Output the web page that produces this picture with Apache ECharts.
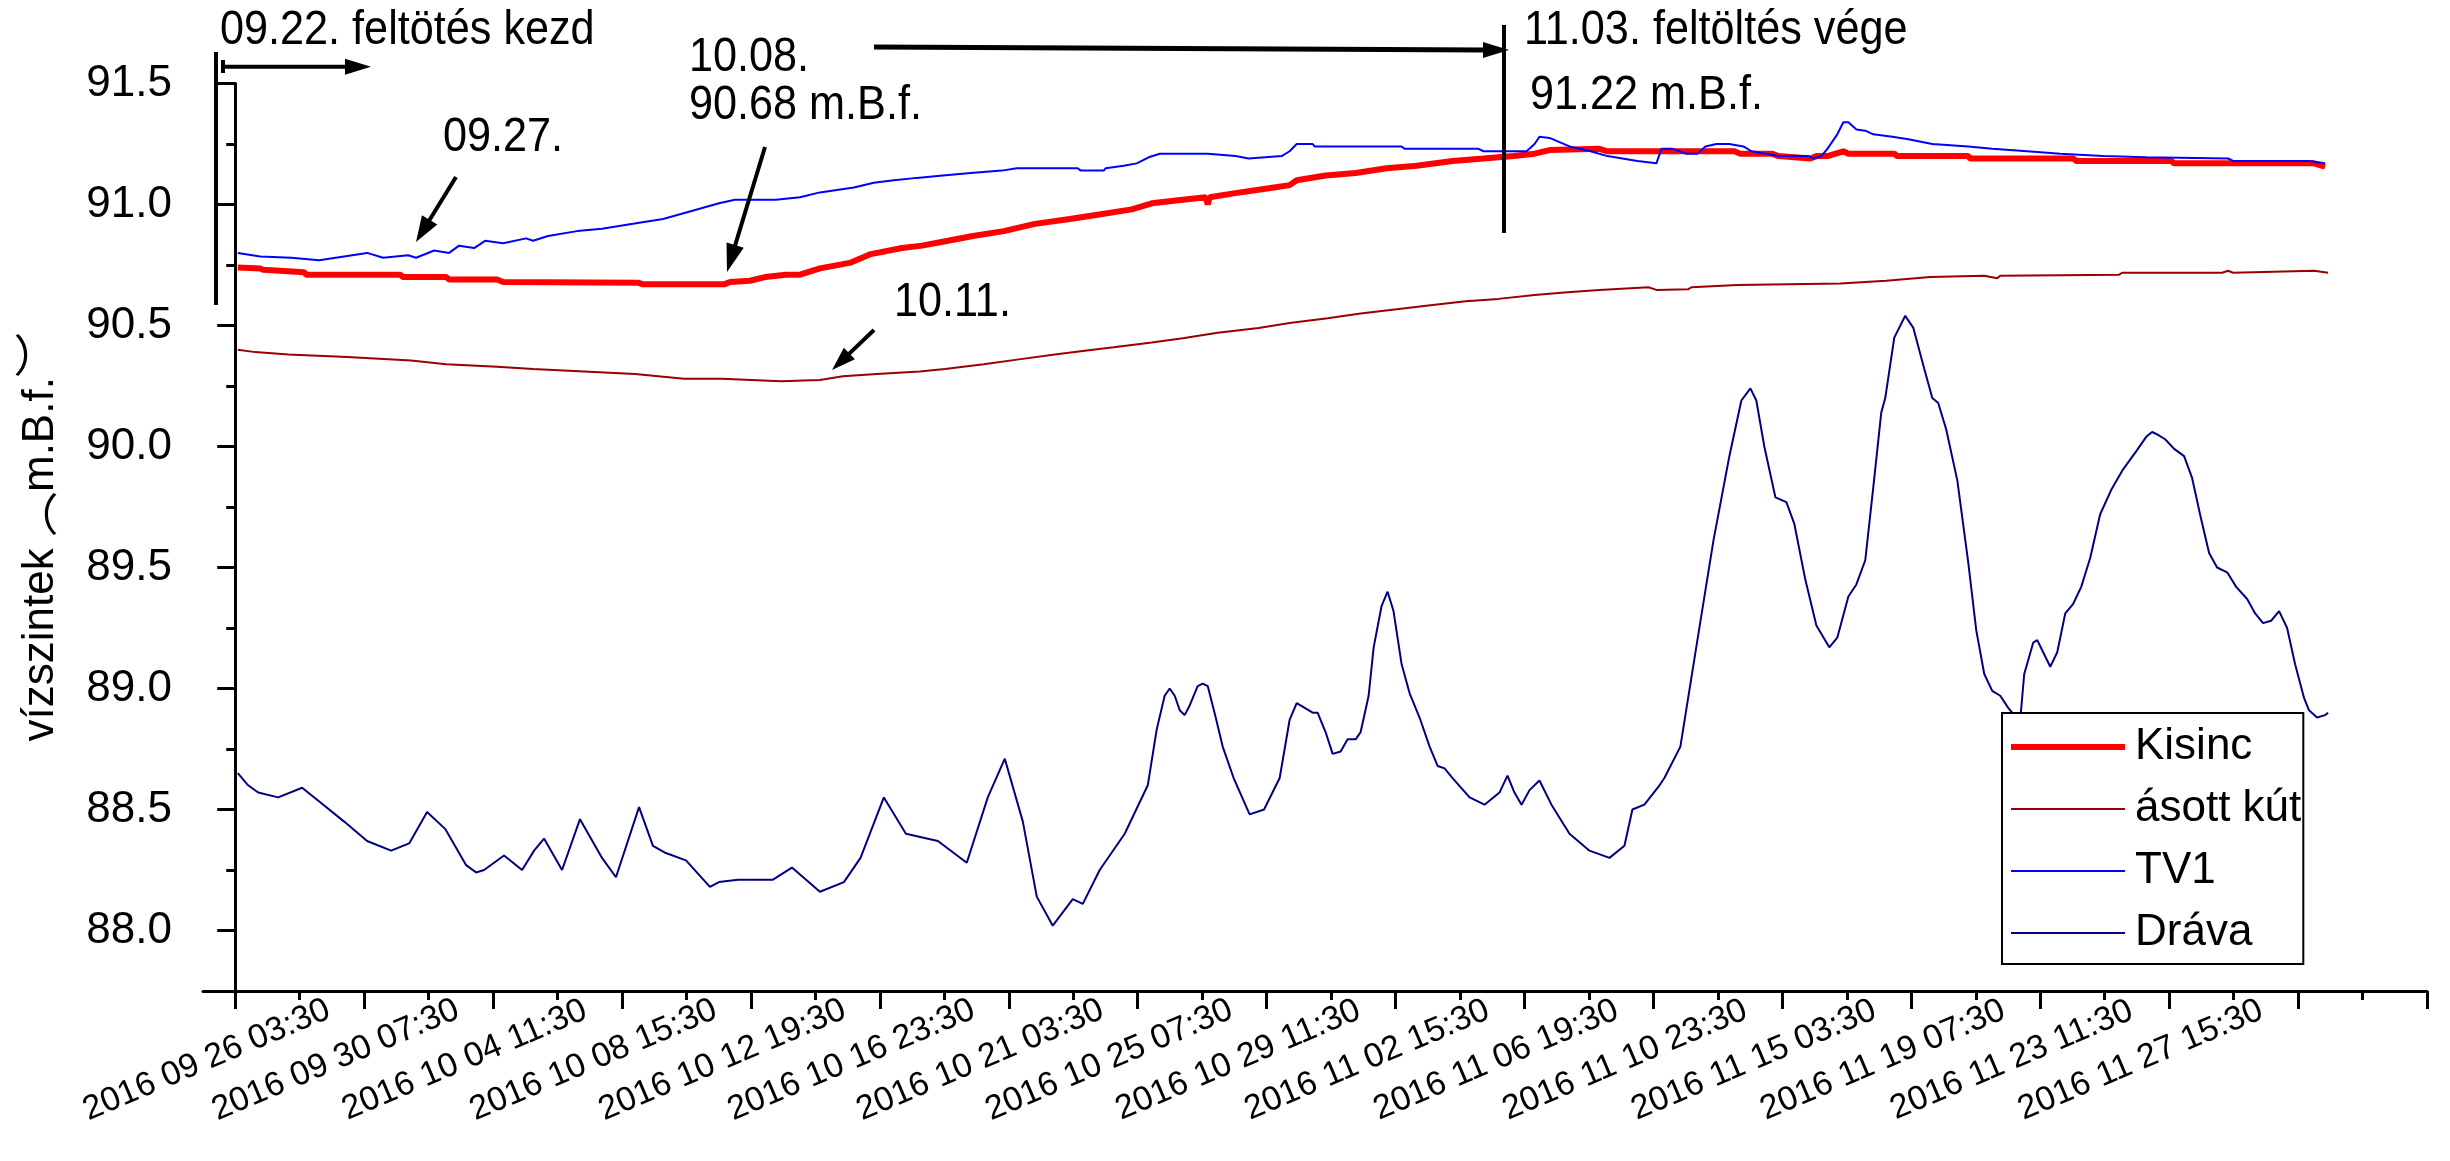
<!DOCTYPE html>
<html><head><meta charset="utf-8">
<script src="https://cdn.jsdelivr.net/npm/echarts@6/dist/echarts.min.js"></script>
<style>html,body{margin:0;padding:0;background:#fff}#c{width:2450px;height:1161px}</style>
</head><body><div id="c"></div>
<script>
// x = hours since 2016 09 26 03:30
const tickLabels = ['2016 09 26 03:30','2016 09 30 07:30','2016 10 04 11:30','2016 10 08 15:30','2016 10 12 19:30','2016 10 16 23:30','2016 10 21 03:30','2016 10 25 07:30','2016 10 29 11:30','2016 11 02 15:30','2016 11 06 19:30','2016 11 10 23:30','2016 11 15 03:30','2016 11 19 07:30','2016 11 23 11:30','2016 11 27 15:30'];
const xLabelValues = [0,100,200,300,400,500,600,700,800,900,1000,1100,1200,1300,1400,1500];
const xMajorTicks = [0,100,200,300,400,500,600,700,800,900,1000,1100,1200,1300,1400,1500,1600,1700];
const xMinorTicks = [50,150,250,350,450,550,650,750,850,950,1050,1150,1250,1350,1450,1550,1650];
const yMajorTicks = [88.0,88.5,89.0,89.5,90.0,90.5,91.0,91.5];
const yMinorTicks = [87.75,88.25,88.75,89.25,89.75,90.25,90.75,91.25];
const seriesNames = ['Kisinc','ásott kút','TV1','Dráva'];

const kisinc = [[2,90.74],[19.4,90.736],[21.7,90.73],[53.5,90.72],[55,90.71],[127.9,90.71],[130.2,90.70],[163.6,90.70],[165.9,90.69],[203.1,90.69],[207.8,90.68],[312.4,90.677],[316.3,90.67],[379.1,90.67],[383.7,90.68],[399.2,90.685],[410.9,90.70],[427.1,90.71],[438,90.71],[453.5,90.736],[477.5,90.76],[493,90.795],[517.1,90.82],[532.6,90.83],[552.7,90.85],[572.1,90.87],[596.1,90.89],[620.2,90.92],[647.3,90.94],[671.3,90.96],[695.3,90.98],[710.9,91.005],[734.9,91.02],[752.7,91.03],[754.3,91.00],[755.8,91.03],[774.4,91.046],[801.6,91.067],[817.8,91.08],[823.3,91.10],[845.7,91.12],[869,91.13],[893,91.15],[916.3,91.16],[944.2,91.18],[968.2,91.19],[991.5,91.20],[1007.8,91.21],[1019.4,91.225],[1058.1,91.23],[1064.3,91.22],[1162.8,91.22],[1167.4,91.21],[1192.2,91.21],[1196.9,91.20],[1221.7,91.19],[1226.4,91.20],[1234.9,91.20],[1247.3,91.22],[1251.2,91.21],[1286.8,91.21],[1289.1,91.20],[1344.2,91.20],[1345.7,91.19],[1425.6,91.19],[1427.9,91.18],[1501.6,91.18],[1503.9,91.17],[1612.4,91.17],[1620.9,91.156]];

const asottKut = [[2,90.40],[15.5,90.39],[41.1,90.38],[86.8,90.37],[136.4,90.355],[163.6,90.34],[203.1,90.33],[231,90.32],[270.5,90.31],[310.1,90.30],[348.1,90.28],[377.5,90.28],[423.3,90.27],[453.5,90.275],[471.3,90.29],[497.7,90.30],[531,90.31],[550.4,90.32],[580.6,90.34],[607.8,90.36],[635.7,90.38],[665.1,90.40],[681.4,90.41],[710.9,90.43],[734.9,90.447],[762,90.47],[793.8,90.49],[817.8,90.51],[847.3,90.53],[872.9,90.55],[900.8,90.567],[928.7,90.585],[954.3,90.60],[979.8,90.61],[1007.8,90.626],[1033.3,90.637],[1058.1,90.647],[1096.1,90.658],[1102.3,90.647],[1127.1,90.65],[1129.5,90.658],[1165.1,90.667],[1245,90.674],[1280.6,90.685],[1314.7,90.70],[1356.6,90.706],[1366.7,90.695],[1369,90.706],[1461.2,90.71],[1463.6,90.718],[1541.1,90.718],[1545.7,90.726],[1549.6,90.718],[1612.4,90.726],[1623.3,90.718]];

const tv1 = [[2,90.80],[19.4,90.785],[43.4,90.78],[65.1,90.77],[102.3,90.80],[114.7,90.78],[134.1,90.79],[140.3,90.78],[154.3,90.81],[165.9,90.80],[173.6,90.83],[185.3,90.82],[193.8,90.85],[207.8,90.84],[225.6,90.86],[231,90.85],[242.6,90.87],[265.1,90.89],[284.5,90.90],[308.5,90.92],[331.8,90.94],[351.9,90.97],[375.2,91.005],[387.6,91.02],[419.4,91.02],[438,91.03],[453.5,91.05],[479.8,91.07],[495.3,91.09],[510.9,91.10],[528.7,91.11],[548.8,91.12],[570.5,91.13],[594.6,91.14],[606.2,91.15],[653.5,91.15],[655.8,91.14],[673.6,91.14],[675.2,91.15],[689.1,91.16],[699.2,91.17],[708.5,91.195],[717.1,91.21],[754.3,91.21],[776,91.20],[786,91.19],[811.6,91.20],[817.8,91.22],[823.3,91.25],[835.7,91.25],[837.2,91.24],[904.7,91.24],[907,91.23],[964.3,91.23],[968.2,91.22],[1001.6,91.22],[1007.8,91.25],[1011.6,91.28],[1019.4,91.275],[1034.9,91.24],[1051.2,91.22],[1064.3,91.20],[1087.6,91.18],[1102.3,91.17],[1106.2,91.23],[1114.7,91.23],[1125.6,91.21],[1134.1,91.21],[1140.3,91.24],[1148.8,91.25],[1158.9,91.25],[1169.8,91.24],[1176,91.22],[1196.9,91.20],[1220.2,91.20],[1224,91.19],[1230.2,91.20],[1234.9,91.23],[1242.6,91.29],[1247.3,91.34],[1251.2,91.34],[1257.4,91.31],[1264.3,91.305],[1270.5,91.29],[1285.3,91.28],[1297.7,91.27],[1316.3,91.25],[1344.2,91.24],[1362.8,91.23],[1389.9,91.22],[1415.5,91.21],[1448.8,91.20],[1482.2,91.195],[1545.7,91.19],[1549.6,91.18],[1608.5,91.18],[1620.9,91.17]];

const drava = [[2,88.65],[10,88.60],[17.8,88.57],[33.3,88.55],[51.9,88.59],[65.9,88.53],[84.5,88.45],[102.3,88.37],[120.9,88.33],[134.9,88.36],[148.8,88.49],[162.8,88.42],[179.1,88.27],[186.8,88.24],[193,88.25],[208.5,88.31],[222.5,88.25],[231.8,88.33],[239.5,88.38],[253.5,88.25],[267.4,88.46],[284.5,88.30],[295.3,88.22],[313.2,88.51],[324,88.35],[334,88.32],[349.6,88.29],[368.2,88.18],[375.2,88.20],[390,88.21],[417.1,88.21],[431.8,88.26],[453.5,88.16],[472.1,88.20],[485,88.30],[503.1,88.55],[520.2,88.40],[545,88.37],[567.4,88.28],[583.7,88.55],[596.9,88.71],[610.9,88.45],[621.7,88.14],[634.1,88.02],[649.6,88.13],[657.4,88.11],[670.5,88.25],[689.9,88.40],[707.8,88.60],[714.7,88.83],[720.9,88.97],[724.8,89.00],[728.7,88.97],[732.6,88.91],[736.4,88.89],[740.3,88.93],[746.5,89.01],[750.4,89.02],[754.3,89.01],[760.5,88.88],[765.9,88.76],[774.4,88.63],[786.8,88.48],[798,88.50],[810.1,88.63],[817.8,88.87],[823.3,88.94],[829.5,88.92],[835.7,88.90],[839.5,88.90],[845.7,88.82],[851.2,88.73],[857.4,88.74],[862.8,88.79],[869,88.79],[872.9,88.82],[879.1,88.97],[883,89.17],[889.1,89.34],[893.8,89.40],[898.4,89.32],[904.7,89.10],[910.9,88.98],[918.6,88.88],[926.4,88.76],[932.6,88.68],[938,88.67],[944.2,88.63],[957.4,88.55],[969,88.52],[980.6,88.57],[986.8,88.64],[992.2,88.57],[997.7,88.52],[1003.9,88.58],[1011.6,88.62],[1020.9,88.52],[1034.9,88.40],[1050.4,88.33],[1065.9,88.30],[1077.5,88.35],[1083.7,88.50],[1093,88.52],[1104.7,88.60],[1108.5,88.63],[1120.9,88.76],[1134.1,89.20],[1146.5,89.61],[1158.9,89.96],[1168.2,90.19],[1175.2,90.24],[1179.8,90.19],[1186,90.00],[1194.6,89.79],[1203.1,89.77],[1209.3,89.68],[1217.8,89.45],[1226.4,89.26],[1236.4,89.17],[1242.6,89.21],[1251.2,89.38],[1257.4,89.43],[1264.3,89.53],[1270.5,89.83],[1276.7,90.14],[1279.8,90.20],[1286.8,90.45],[1295.3,90.54],[1301.6,90.49],[1310.1,90.32],[1316.3,90.20],[1320.9,90.18],[1327.1,90.07],[1335.7,89.86],[1344.2,89.52],[1350.4,89.24],[1356.6,89.06],[1362.8,88.99],[1369,88.97],[1375.2,88.92],[1381.4,88.88],[1384.5,88.87],[1387.6,89.06],[1394.6,89.19],[1397.7,89.20],[1402.3,89.15],[1407.8,89.09],[1413.2,89.15],[1419.4,89.31],[1425.6,89.35],[1431.8,89.42],[1438.8,89.54],[1446.5,89.72],[1455,89.82],[1463.6,89.90],[1474.4,89.98],[1482.2,90.04],[1486.8,90.06],[1490.7,90.05],[1496.9,90.03],[1503.9,89.99],[1511.6,89.96],[1517.8,89.87],[1524.8,89.70],[1531,89.56],[1537.2,89.50],[1545,89.48],[1552,89.42],[1560.5,89.37],[1566.7,89.31],[1572.9,89.27],[1579.1,89.28],[1585.3,89.32],[1591.5,89.25],[1597.7,89.10],[1604.7,88.96],[1608.5,88.91],[1614.7,88.88],[1620.9,88.89],[1623.3,88.90]];

const FONT = "'Liberation Sans', Arial, 'Noto Sans CJK SC', sans-serif";
const FS = 44;   // axis / legend text
const FSX = 34;  // x tick labels

function arrow(x1, y1, x2, y2, headLen, headHalf, lw) {
  const dx = x2 - x1, dy = y2 - y1, L = Math.hypot(dx, dy);
  const ux = dx / L, uy = dy / L, px = -uy, py = ux;
  const bx = x2 - ux * headLen, by = y2 - uy * headLen;
  return [
    {type:'line', shape:{x1:x1, y1:y1, x2:bx + ux*2, y2:by + uy*2}, style:{stroke:'#000', lineWidth:lw}, z:100},
    {type:'polygon', shape:{points:[[x2,y2],[bx+px*headHalf, by+py*headHalf],[bx-px*headHalf, by-py*headHalf]]}, style:{fill:'#000'}, z:100}
  ];
}
// annotation text: slightly condensed (taller, narrower) like the original
function txt(x, y, s) {
  return {type:'text', x:x, y:y, scaleX:0.9, scaleY:1, style:{x:0, y:0, text:s, fontSize:48, fontFamily:FONT, fill:'#000', textVerticalAlign:'middle'}, z:100};
}

const graphics = [].concat(
  [{type:'line', shape:{x1:216, y1:52, x2:216, y2:305}, style:{stroke:'#000', lineWidth:4}, z:100}],
  [{type:'line', shape:{x1:223, y1:60, x2:223, y2:73}, style:{stroke:'#000', lineWidth:4}, z:100}],
  arrow(222, 66.7, 371, 66.7, 26, 8, 4),
  arrow(456, 177, 416, 242, 26, 9, 4),
  arrow(765, 147, 727, 272, 28, 9, 4),
  arrow(874, 330, 832, 370, 24, 8, 4),
  arrow(874, 47, 1509, 50, 26, 8, 5),
  [{type:'line', shape:{x1:1504, y1:25, x2:1504, y2:233}, style:{stroke:'#000', lineWidth:4}, z:100}],
  [txt(220, 31, '09.22. feltötés kezd'),
   txt(443, 138, '09.27.'),
   txt(689, 58, '10.08.'),
   txt(689, 106, '90.68 m.B.f.'),
   txt(894, 303, '10.11.'),
   txt(1524, 31, '11.03. feltöltés vége'),
   txt(1530, 96, '91.22 m.B.f.')]
);

const chart = echarts.init(document.getElementById('c'), null, {renderer:'canvas'});
const axisBase = {type:'value', min:-25, max:1700, splitLine:{show:false}};
chart.setOption({
  animation:false,
  backgroundColor:'#fff',
  grid:{left:203, top:83.5, width:2224, height:907.5, containLabel:false},
  xAxis:[
    Object.assign({}, axisBase, {
      position:'bottom',
      axisLine:{show:true, lineStyle:{color:'#000', width:3}},
      axisTick:{show:true, customValues:xMajorTicks, length:18, lineStyle:{color:'#000', width:3}},
      axisLabel:{show:true, customValues:xLabelValues, rotate:23, align:'center', verticalAlign:'middle', margin:57,
        padding:[0,62,0,0],
        fontSize:FSX, fontFamily:FONT, color:'#000',
        formatter:function(v){ const i = Math.round(v/100); return tickLabels[i] || ''; }}
    }),
    Object.assign({}, axisBase, {
      position:'bottom',
      axisLine:{show:false},
      axisTick:{show:true, customValues:xMinorTicks, length:9, lineStyle:{color:'#000', width:3}},
      axisLabel:{show:false}
    })
  ],
  yAxis:[
    {type:'value', min:87.75, max:91.5, position:'left', splitLine:{show:false},
     axisLine:{show:true, lineStyle:{color:'#000', width:3}},
     axisTick:{show:true, customValues:yMajorTicks, length:18, lineStyle:{color:'#000', width:3}},
     axisLabel:{show:true, customValues:yMajorTicks, margin:31, fontSize:FS, fontFamily:FONT, color:'#000',
       formatter:function(v){ return v.toFixed(1); }},
     name:'vízszintek ︵m.B.f.︶', nameLocation:'middle', nameRotate:90, nameGap:140,
     nameTextStyle:{fontSize:FS, fontFamily:FONT, color:'#000'}
    },
    {type:'value', min:87.75, max:91.5, position:'left', splitLine:{show:false},
     axisLine:{show:false},
     axisTick:{show:true, customValues:yMinorTicks, length:9, lineStyle:{color:'#000', width:3}},
     axisLabel:{show:false}
    }
  ],
  legend:{
    orient:'vertical', left:2002, top:713,
    padding:[12, 2, 9, 6], itemWidth:114, itemHeight:20, itemGap:18,
    borderColor:'#000', borderWidth:2, backgroundColor:'#fff', borderRadius:0,
    itemStyle:{opacity:0},
    textStyle:{fontSize:FS, fontFamily:FONT, color:'#000', padding:[0,0,0,5]},
    data:[
      {name:seriesNames[0], lineStyle:{width:6}},
      {name:seriesNames[1], lineStyle:{width:2}},
      {name:seriesNames[2], lineStyle:{width:2}},
      {name:seriesNames[3], lineStyle:{width:2}}
    ]
  },
  series:[
    {name:seriesNames[0], type:'line', data:kisinc, showSymbol:false, symbol:'none', color:'#ff0000', lineStyle:{width:6, color:'#ff0000'}},
    {name:seriesNames[1], type:'line', data:asottKut, showSymbol:false, symbol:'none', color:'#990000', lineStyle:{width:2, color:'#990000'}},
    {name:seriesNames[2], type:'line', data:tv1, showSymbol:false, symbol:'none', color:'#0000ff', lineStyle:{width:2, color:'#0000ff'}},
    {name:seriesNames[3], type:'line', data:drava, showSymbol:false, symbol:'none', color:'#000080', lineStyle:{width:2, color:'#000080'}}
  ],
  graphic:{elements:graphics}
});
</script>
</body></html>
